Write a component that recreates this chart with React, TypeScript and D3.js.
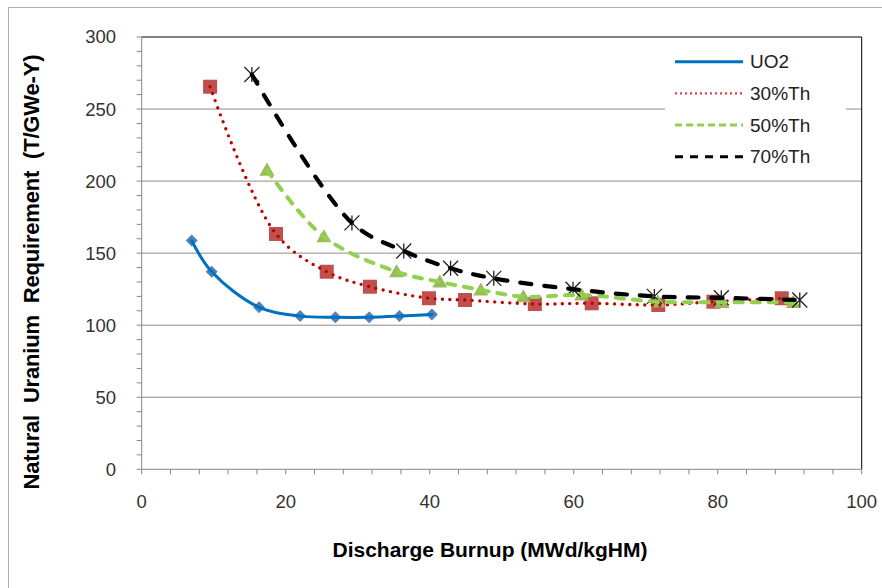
import React from "react";
import * as d3 from "d3";

const uo2X = [6.94, 9.72, 16.3, 22.0, 26.9, 31.6, 35.8, 40.3];
const uo2Y = [158.8, 137.1, 112.4, 106.3, 105.5, 105.5, 106.3, 107.5];

const th30X = [9.5, 18.65, 25.7, 31.7, 39.9, 44.9, 54.6, 62.5, 71.75, 79.4, 88.9];
const th30Y = [265.5, 163.3, 137.1, 126.7, 118.7, 117.5, 114.7, 115.2, 114.0, 116.3, 118.7];

const th50X = [17.4, 25.3, 35.4, 41.4, 47.1, 53.0, 61.1, 71.7, 80.6, 90.5];
const th50Y = [207.7, 161.4, 137.1, 130.0, 124.5, 119.8, 121.0, 116.3, 115.9, 115.9];

const th70X = [15.3, 29.2, 36.4, 42.9, 48.9, 59.9, 71.2, 80.5, 91.4];
const th70Y = [274, 171, 151.5, 139.5, 132.5, 125, 120, 119, 117.5];

const seriesNames = ["UO2", "30%Th", "50%Th", "70%Th"];
const xTicks = [0, 20, 40, 60, 80, 100];
const yTicks = [0, 50, 100, 150, 200, 250, 300];

const W = 882;
const H = 588;
const L = 141.7, R = 861.7, T = 37, B = 469.3;

export default function App() {
  const x = d3.scaleLinear().domain([0, 100]).range([L, R]);
  const y = d3.scaleLinear().domain([0, 300]).range([B, T]);

  const mk = (xs: number[], ys: number[]) => xs.map((v, i) => [v, ys[i]] as [number, number]);
  const data = [mk(uo2X, uo2Y), mk(th30X, th30Y), mk(th50X, th50Y), mk(th70X, th70Y)];

  const line = d3
    .line<[number, number]>()
    .x((d) => x(d[0]))
    .y((d) => y(d[1]))
    .curve(d3.curveCatmullRom.alpha(0.5));

  const lineStyles = [
    { stroke: "#0070C0", width: 3, dash: "", cap: "round" },
    { stroke: "#C00000", width: 3.4, dash: "0 7.5", cap: "round" },
    { stroke: "#92D050", width: 4, dash: "8 9", cap: "round" },
    { stroke: "#000000", width: 4.2, dash: "11 13", cap: "round" },
  ];
  const legendStyles = [
    { stroke: "#0070C0", width: 3, dash: "", cap: "butt" },
    { stroke: "#E04040", width: 2.2, dash: "2 3", cap: "butt" },
    { stroke: "#92D050", width: 3, dash: "7 4", cap: "butt" },
    { stroke: "#000000", width: 3, dash: "8 7", cap: "butt" },
  ];

  const xMinor = d3.range(0, 101, 4);
  const yMinor = d3.range(0, 301, 10);

  const marker = (si: number, px: number, py: number, key: string) => {
    if (si === 0) {
      const s = 6;
      return (
        <path key={key} d={`M${px},${py - s}L${px + s},${py}L${px},${py + s}L${px - s},${py}Z`} fill="#4F81BD" />
      );
    }
    if (si === 1) {
      const s = 7;
      return <rect key={key} x={px - s} y={py - s} width={2 * s} height={2 * s} fill="#C0504D" />;
    }
    if (si === 2) {
      const s = 7.5;
      return (
        <path key={key} d={`M${px},${py - s}L${px + s},${py + s * 0.75}L${px - s},${py + s * 0.75}Z`} fill="#9BBB59" />
      );
    }
    const s = 7.5;
    return (
      <path
        key={key}
        d={`M${px - s},${py - s}L${px + s},${py + s}M${px - s},${py + s}L${px + s},${py - s}M${px},${py - s}L${px},${py + s}`}
        stroke="#222"
        strokeWidth={1.3}
        fill="none"
      />
    );
  };

  const font = "Liberation Sans, Arial, sans-serif";

  return (
    <svg width={W} height={H} style={{ position: "absolute", left: 0, top: 0, background: "#fff" }} fontFamily={font}>
      <rect x={0} y={0} width={W} height={H} fill="#fff" />
      <path d={`M8.5,${H}V7.5H${W}`} stroke="#B0B0B0" fill="none" />

      {yTicks.filter((t) => t > 0 && t < 300).map((t) => (
        <line key={"g" + t} x1={L} x2={R} y1={y(t)} y2={y(t)} stroke="#8C8C8C" strokeWidth={1} />
      ))}

      {/* plot border top/right */}
      <path d={`M${L},${T}H${R}V${B}`} stroke="#000" strokeWidth={1} fill="none" />

      {/* axes */}
      <line x1={L} x2={L} y1={T} y2={B} stroke="#868686" />
      <line x1={L} x2={R} y1={B} y2={B} stroke="#868686" />
      {yMinor.map((t) => (
        <line key={"ym" + t} x1={L - 5} x2={L} y1={y(t)} y2={y(t)} stroke="#868686" />
      ))}
      {xMinor.map((t) => (
        <line key={"xm" + t} x1={x(t)} x2={x(t)} y1={B} y2={B + 5} stroke="#868686" />
      ))}

      {yTicks.map((t) => (
        <text key={"yl" + t} x={116} y={y(t)} dy="0.35em" textAnchor="end" fontSize={18.5} fill="#333">
          {t}
        </text>
      ))}
      {xTicks.map((t) => (
        <text key={"xl" + t} x={x(t)} y={502} dy="0.35em" textAnchor="middle" fontSize={18.5} fill="#333">
          {t}
        </text>
      ))}

      <text x={490} y={550} dy="0.35em" textAnchor="middle" fontSize={21} fontWeight="bold" fill="#000">
        Discharge Burnup (MWd/kgHM)
      </text>
      <text
        transform={`translate(31,272) rotate(-90)`}
        dy="0.35em"
        textAnchor="middle"
        fontSize={22}
        fontWeight="bold"
        fill="#000"
        textLength={435}
        lengthAdjust="spacing"
        style={{ whiteSpace: "pre" }}
      >
        {"Natural  Uranium  Requirement  (T/GWe-Y)"}
      </text>

      {/* markers */}
      {data.map((s, si) => s.map((d, i) => marker(si, x(d[0]), y(d[1]), `m${si}-${i}`)))}

      {/* lines */}
      {data.map((s, si) => (
        <path
          key={"l" + si}
          d={line(s) || ""}
          fill="none"
          stroke={lineStyles[si].stroke}
          strokeWidth={lineStyles[si].width}
          strokeDasharray={lineStyles[si].dash}
          strokeLinecap={lineStyles[si].cap as any}
        />
      ))}

      {/* legend */}
      <rect x={665} y={44} width={181} height={128} fill="#fff" />
      {seriesNames.map((n, i) => {
        const ly = 61.7 + i * 31.7;
        return (
          <g key={"lg" + i}>
            <line
              x1={675}
              x2={743}
              y1={ly}
              y2={ly}
              stroke={legendStyles[i].stroke}
              strokeWidth={legendStyles[i].width}
              strokeDasharray={legendStyles[i].dash}
            />
            <text x={750} y={ly} dy="0.35em" fontSize={19} fill="#222">
              {n}
            </text>
          </g>
        );
      })}
    </svg>
  );
}
